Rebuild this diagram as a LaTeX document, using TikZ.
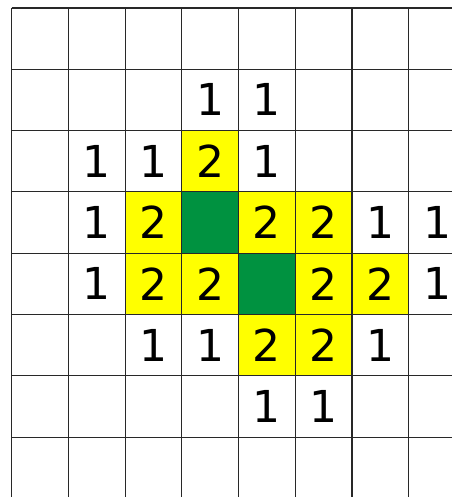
\documentclass[tikz,border=0pt]{standalone}
\usepackage{fontspec}
\setmainfont{DejaVu Sans}
\definecolor{cellyellow}{RGB}{255,255,0}
\definecolor{cellgreen}{RGB}{0,146,64}
\definecolor{gridline}{RGB}{40,40,40}
\begin{document}
\begin{tikzpicture}[x=1pt,y=-1pt,
  gridstyle/.style={draw=gridline,line width=1.1pt},
  num/.style={inner sep=0pt,font=\fontsize{44}{44}\selectfont},
  yellowcell/.style={fill=cellyellow,draw=none},
  greencell/.style={fill=cellgreen,draw=none}]
\def\cw{56.71}
\def\rh{61.3}
\def\xo{11.7}
\def\yo{8}
\useasboundingbox (0,0) rectangle (452,497);
\fill[white] (0,0) rectangle (452,497);
% coloured cells: row/col
\foreach \r/\c in {2/3,3/2,3/4,3/5,4/2,4/3,4/5,4/6,5/4,5/5}
  \fill[yellowcell] ({\xo+\c*\cw},{\yo+\r*\rh}) rectangle ++(\cw,\rh);
\foreach \r/\c in {3/3,4/4}
  \fill[greencell] ({\xo+\c*\cw},{\yo+\r*\rh}) rectangle ++(\cw,\rh);
% grid
\foreach \i in {0,...,7}
  \draw[gridstyle] ({\xo+\i*\cw},\yo) -- ({\xo+\i*\cw},497);
\foreach \j in {0,...,7}
  \draw[gridstyle] (\xo,{\yo+\j*\rh}) -- (452,{\yo+\j*\rh});
% numbers: row/col/value
\foreach \r/\c/\v in {1/3/1,1/4/1,
  2/1/1,2/2/1,2/3/2,2/4/1,
  3/1/1,3/2/2,3/4/2,3/5/2,3/6/1,3/7/1,
  4/1/1,4/2/2,4/3/2,4/5/2,4/6/2,4/7/1,
  5/2/1,5/3/1,5/4/2,5/5/2,5/6/1,
  6/4/1,6/5/1}
  \node[num] (n-\r-\c) at ({\xo+(\c+0.5)*\cw},{\yo+(\r+0.5)*\rh}) {\v};
\end{tikzpicture}
\end{document}
